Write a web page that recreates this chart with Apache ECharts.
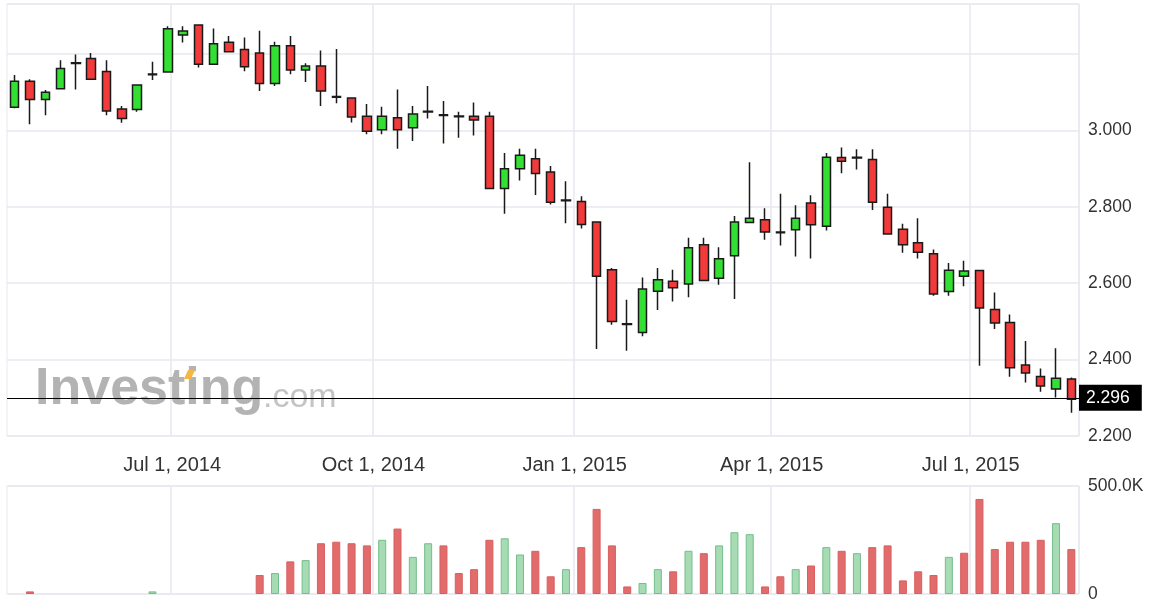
<!DOCTYPE html>
<html><head><meta charset="utf-8">
<script src="https://cdn.jsdelivr.net/npm/echarts@6/dist/echarts.min.js"></script>
<style>html,body{margin:0;padding:0;background:#fff}#c{width:1155px;height:615px}</style>
</head><body><div id="c"></div>
<script>
// ---- data ----
const axisStart = [2014, 3, 17];   // first day on the axis (UTC y, m0, d)
const axisDays = 490;              // number of daily categories
const firstWeek = [2014, 3, 20];   // first weekly candle (UTC y, m0, d)
const opens  = [3.061,3.129,3.081,3.109,3.177,3.188,3.154,3.056,3.055,3.146,3.153,3.250,3.276,3.173,3.231,3.212,3.203,3.123,3.222,3.158,3.169,3.089,3.085,3.037,3.002,3.033,3.007,3.048,3.041,3.038,3.037,3.037,2.848,2.900,2.926,2.891,2.816,2.814,2.760,2.635,2.494,2.471,2.579,2.605,2.598,2.701,2.613,2.672,2.759,2.766,2.734,2.740,2.810,2.749,2.929,2.928,2.924,2.799,2.741,2.706,2.677,2.578,2.618,2.633,2.531,2.497,2.386,2.356,2.323,2.349];
const closes = [3.129,3.081,3.100,3.162,3.175,3.134,3.051,3.031,3.119,3.148,3.266,3.260,3.173,3.227,3.206,3.167,3.123,3.222,3.158,3.169,3.103,3.087,3.035,2.998,3.037,3.002,3.043,3.050,3.039,3.036,3.027,2.848,2.900,2.935,2.887,2.812,2.818,2.754,2.618,2.500,2.492,2.585,2.609,2.588,2.693,2.607,2.664,2.760,2.770,2.734,2.732,2.770,2.753,2.930,2.919,2.930,2.812,2.729,2.701,2.681,2.572,2.634,2.632,2.535,2.496,2.379,2.365,2.331,2.351,2.296];
const lows   = [3.058,3.016,3.040,3.107,3.107,3.133,3.040,3.020,3.049,3.132,3.151,3.230,3.165,3.172,3.205,3.155,3.103,3.116,3.147,3.127,3.064,3.071,3.021,2.990,2.990,2.952,2.972,3.031,2.966,2.981,2.987,2.847,2.782,2.869,2.831,2.806,2.757,2.743,2.428,2.491,2.423,2.461,2.530,2.552,2.563,2.606,2.596,2.559,2.758,2.714,2.699,2.670,2.665,2.738,2.888,2.898,2.792,2.728,2.680,2.665,2.567,2.567,2.592,2.384,2.480,2.355,2.340,2.316,2.301,2.261];
const highs  = [3.145,3.134,3.106,3.184,3.199,3.203,3.184,3.064,3.121,3.180,3.273,3.273,3.278,3.267,3.247,3.243,3.261,3.232,3.247,3.176,3.209,3.213,3.087,3.069,3.062,3.107,3.064,3.116,3.077,3.049,3.073,3.049,2.941,2.952,2.952,2.907,2.867,2.828,2.761,2.640,2.557,2.615,2.640,2.635,2.719,2.719,2.694,2.776,2.917,2.796,2.834,2.804,2.830,2.941,2.955,2.951,2.951,2.834,2.756,2.770,2.688,2.653,2.659,2.634,2.576,2.518,2.449,2.377,2.430,2.353];
const volumes = [0,12000,0,0,0,0,0,0,0,12000,0,0,0,0,0,0,88000,97000,151000,157000,235000,242000,235000,225000,251000,303000,172000,235000,225000,97000,115000,251000,258000,183000,200000,82000,115000,217000,394000,225000,35000,51000,115000,105000,200000,189000,225000,286000,277000,35000,82000,115000,132000,217000,200000,189000,217000,225000,63000,105000,88000,172000,191000,440000,208000,242000,242000,251000,328000,208000];
const lastPrice = 2.296;
const priceMin = 2.2, priceMax = 3.331, priceStep = 0.2;
const volumeMax = 500000;
const monthNames = ['Jan','Feb','Mar','Apr','May','Jun','Jul','Aug','Sep','Oct','Nov','Dec'];

// ---- build ----
const DAY = 86400000;
const ymd = t => new Date(t).toISOString().slice(0, 10);
const t0 = Date.UTC(axisStart[0], axisStart[1], axisStart[2]);
const categories = [];
for (let i = 0; i < axisDays; i++) categories.push(ymd(t0 + i * DAY));
const w0 = Date.UTC(firstWeek[0], firstWeek[1], firstWeek[2]);
const weekDates = opens.map((_, i) => ymd(w0 + i * 7 * DAY));

const candleData = weekDates.map((d, i) => [d, opens[i], closes[i], lows[i], highs[i]]);
const volData = weekDates.map((d, i) => {
  const up = i === 0 ? closes[i] >= opens[i] : closes[i] >= closes[i - 1];
  return {
    value: [d, volumes[i] > 0 ? volumes[i] : '-'],
    itemStyle: up ? {color: '#a6dbb4', borderColor: '#73bf8b', borderWidth: 1}
                  : {color: '#e26b6b', borderColor: '#d95f5f', borderWidth: 1}
  };
});

const isQuarter = v => { const m = +v.slice(5, 7), d = +v.slice(8, 10); return d === 1 && (m - 1) % 3 === 0; };
const fmtDate = v => monthNames[+v.slice(5, 7) - 1] + ' ' + (+v.slice(8, 10)) + ', ' + v.slice(0, 4);
const FONT = '"Liberation Sans", Arial, sans-serif';
const GRID = '#e6e9ef';

const chart = echarts.init(document.getElementById('c'), null, {renderer: 'canvas'});
chart.setOption({
  animation: false,
  backgroundColor: '#fff',
  textStyle: {fontFamily: FONT},
  grid: [
    {left: 7, right: 76, top: 4, height: 432, show: true, borderColor: GRID, borderWidth: 1, backgroundColor: 'transparent'},
    {left: 7, right: 76, top: 486, height: 108, show: true, borderColor: GRID, borderWidth: 1, backgroundColor: 'transparent'}
  ],
  xAxis: [
    {type: 'category', gridIndex: 0, data: categories, boundaryGap: true,
     axisLine: {show: false}, axisTick: {show: false},
     axisLabel: {interval: (i, v) => isQuarter(v), formatter: fmtDate, color: '#333', fontSize: 20, margin: 19, fontFamily: FONT},
     splitLine: {show: true, interval: (i, v) => isQuarter(v), lineStyle: {color: GRID, width: 1.5}}},
    {type: 'category', gridIndex: 1, data: categories, boundaryGap: true,
     axisLine: {show: false}, axisTick: {show: false}, axisLabel: {show: false},
     splitLine: {show: true, interval: (i, v) => isQuarter(v), lineStyle: {color: GRID, width: 1.5}}}
  ],
  yAxis: [
    {type: 'value', gridIndex: 0, position: 'right', min: priceMin, max: priceMax, interval: priceStep,
     axisLine: {show: false}, axisTick: {show: false},
     axisLabel: {color: '#333', fontSize: 17.5, margin: 9, showMinLabel: true, showMaxLabel: false, padding: [0, 0, 6, 0],
       formatter: v => (Math.abs(v / priceStep - Math.round(v / priceStep)) < 1e-6 && v < 3.1) ? v.toFixed(3) : ''},
     splitLine: {show: true, lineStyle: {color: GRID, width: 1.5}}},
    {type: 'value', gridIndex: 1, position: 'right', min: 0, max: volumeMax, interval: volumeMax,
     axisLine: {show: false}, axisTick: {show: false},
     axisLabel: {color: '#333', fontSize: 17.5, margin: 9, formatter: v => v === 0 ? '0' : (v / 1000).toFixed(1) + 'K'},
     splitLine: {show: true, lineStyle: {color: GRID, width: 1.5}}}
  ],
  graphic: [
    {type: 'text', z: 1, silent: true, left: 35, top: 364,
     style: {text: 'Investing', font: 'bold 52px "Liberation Sans", Arial, sans-serif', fill: '#b3b3b3'}},
    {type: 'text', z: 1, silent: true, left: 263, top: 381,
     style: {text: '.com', font: '34px "Liberation Sans", Arial, sans-serif', fill: '#c4c4c4'}},
    {type: 'polygon', z: 2, silent: true, shape: {points: [[184, 379], [188, 370], [195, 370], [191, 379]]}, style: {fill: '#f5b547'}}
  ],
  series: [
    {type: 'candlestick', xAxisIndex: 0, yAxisIndex: 0, data: candleData,
     encode: {x: 0, y: [1, 2, 3, 4]}, barWidth: 9, silent: true,
     itemStyle: {color: '#32df32', color0: '#f23a3a', borderColor: '#1a1a1a', borderColor0: '#1a1a1a', borderWidth: 1.5},
     markLine: {silent: true, symbol: ['none', 'none'], animation: false,
       lineStyle: {color: '#000', width: 1.2, type: 'solid'},
       label: {show: true, position: 'end', distance: 0, formatter: lastPrice.toFixed(3), color: '#fff', backgroundColor: '#000',
         fontSize: 17.5, padding: [4, 12, 4, 7], fontFamily: FONT},
       data: [{yAxis: lastPrice}]}},
    {type: 'bar', xAxisIndex: 1, yAxisIndex: 1, data: volData, barWidth: 8, silent: true}
  ]
});
</script></body></html>
